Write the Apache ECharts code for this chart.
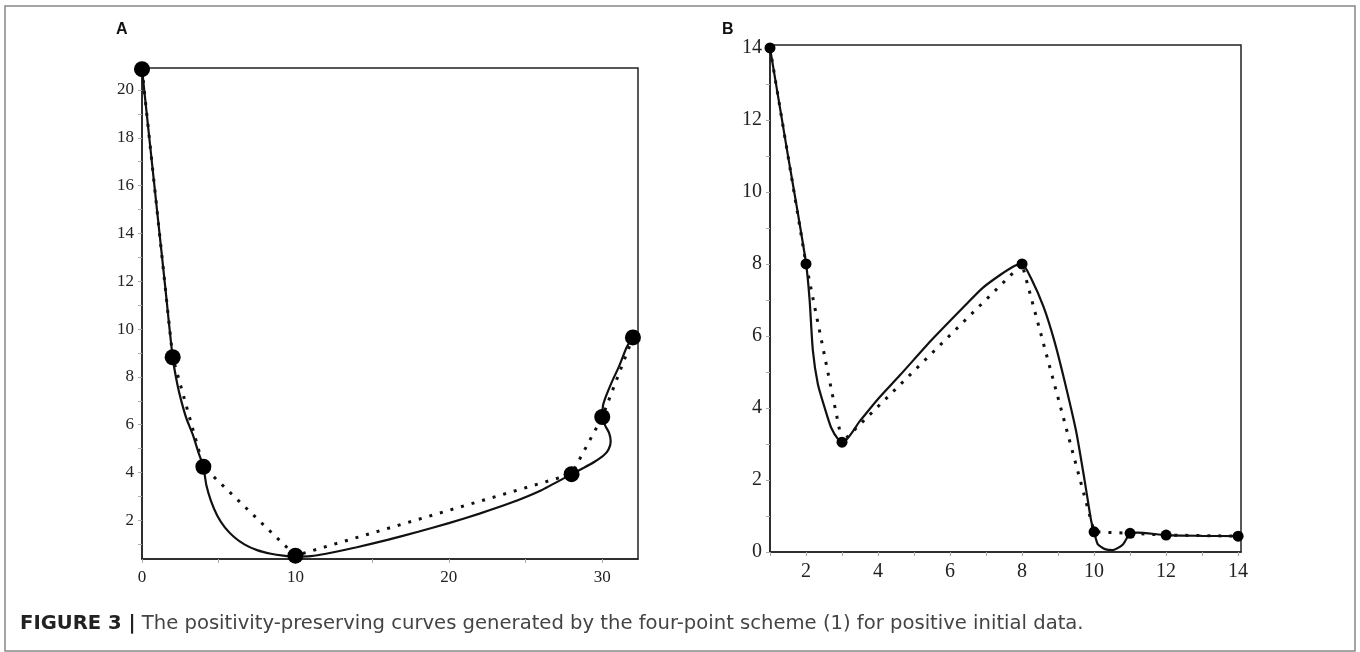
<!DOCTYPE html>
<html>
<head>
<meta charset="utf-8">
<style>
  html, body { margin: 0; padding: 0; background: #fff; }
  #chart { width: 1360px; height: 652px; }
</style>
<script src="https://cdn.jsdelivr.net/npm/echarts@6/dist/echarts.min.js"></script>
</head>
<body>
<div id="chart"></div>
<script>
// panel A: initial data (control points) and the limit curve
const ctrlAX = [0, 2, 4, 10, 28, 30, 32];
const ctrlAY = [20.87, 8.82, 4.24, 0.52, 3.93, 6.32, 9.65];
const curveAX = [0, 0.5, 1, 1.5, 2, 2.3, 2.6, 2.9, 3.3, 3.7, 4, 4.2, 4.5, 4.9, 5.4, 6, 6.7, 7.5, 8.4, 9.2, 10,
  11, 12, 14, 16, 18, 20, 22, 24, 26, 28, 28.8, 29.5, 30.1, 30.4, 30.55, 30.45, 30.2, 30, 30.05, 30.25, 30.6, 31.1, 31.6, 32];
const curveAY = [20.87, 17.85, 14.85, 11.85, 8.82, 7.7, 6.9, 6.25, 5.6, 4.8, 4.24, 3.45, 2.8, 2.2, 1.7, 1.3, 0.98, 0.75, 0.6, 0.52, 0.48,
  0.5, 0.6, 0.87, 1.18, 1.52, 1.88, 2.28, 2.72, 3.25, 3.93, 4.2, 4.45, 4.72, 4.95, 5.3, 5.65, 5.95, 6.32, 6.8, 7.2, 7.75, 8.45, 9.25, 9.65];

// panel B
const ctrlBX = [1, 2, 3, 8, 10, 11, 12, 14];
const ctrlBY = [14, 8, 3.05, 8, 0.56, 0.52, 0.47, 0.44];
const curveBX = [1, 1.25, 1.5, 1.75, 2, 2.1, 2.19, 2.33, 2.52, 2.7, 2.9, 3.03, 3.5, 4, 4.6, 5.5, 6.45, 6.9, 7.4, 7.8, 8,
  8.25, 8.6, 8.9, 9.18, 9.5, 9.74, 9.92, 10, 10.1, 10.3, 10.52, 10.8, 11, 11.2, 12, 13, 14];
const curveBY = [14, 12.5, 11, 9.55, 8.02, 7, 5.6, 4.66, 4, 3.45, 3.12, 3.05, 3.64, 4.25, 4.9, 5.9, 6.88, 7.33, 7.7, 7.95, 8,
  7.6, 6.8, 5.85, 4.75, 3.36, 1.97, 0.86, 0.56, 0.22, 0.08, 0.05, 0.21, 0.52, 0.54, 0.47, 0.45, 0.44];

// ticks
const labelsAX = [0, 10, 20, 30];
const ticksAX = [0, 5, 10, 15, 20, 25, 30];
const labelsAY = [2, 4, 6, 8, 10, 12, 14, 16, 18, 20];
const ticksAY = [1, 2, 3, 4, 5, 6, 7, 8, 9, 10, 11, 12, 13, 14, 15, 16, 17, 18, 19, 20];
const labelsBX = [2, 4, 6, 8, 10, 12, 14];
const ticksBX = [1, 2, 3, 4, 5, 6, 7, 8, 9, 10, 11, 12, 13, 14];
const labelsBY = [0, 2, 4, 6, 8, 10, 12, 14];
const ticksBY = [0, 1, 2, 3, 4, 5, 6, 7, 8, 9, 10, 11, 12, 13, 14];

const zip = (xs, ys) => xs.map((x, i) => [x, ys[i]]);

const serif = "'Liberation Serif', 'DejaVu Serif', serif";
const sans = "'Liberation Sans', Arial, sans-serif";

function makeAxis(gridIndex, min, max, labels, ticks, fontSize, isY) {
  return {
    type: "value",
    gridIndex,
    min,
    max,
    splitLine: { show: false },
    axisLine: { show: true, onZero: false, lineStyle: { color: "#222", width: 1.5 } },
    axisTick: {
      show: true,
      customValues: ticks,
      length: 4,
      lineStyle: { color: "#aaa", width: 1 },
    },
    axisLabel: {
      customValues: labels,
      color: "#222",
      fontFamily: serif,
      fontSize,
      margin: isY ? 8 : 10,
    },
  };
}

const chart = echarts.init(document.getElementById("chart"), null, { renderer: "canvas" });

const dotted = { color: "#111", width: 3, type: [3, 8], cap: "butt" };

chart.setOption({
  animation: false,
  backgroundColor: "#fff",
  grid: [
    { left: 142, top: 68, width: 496, height: 491, show: true, borderColor: "#222", borderWidth: 1.5, backgroundColor: "transparent" },
    { left: 770, top: 45, width: 471, height: 507, show: true, borderColor: "#222", borderWidth: 1.5, backgroundColor: "transparent" },
  ],
  xAxis: [
    makeAxis(0, 0, 32.33, labelsAX, ticksAX, 17, false),
    makeAxis(1, 1, 14.08, labelsBX, ticksBX, 20, false),
  ],
  yAxis: [
    makeAxis(0, 0.38, 20.92, labelsAY, ticksAY, 17, true),
    makeAxis(1, 0, 14.08, labelsBY, ticksBY, 20, true),
  ],
  series: [
    {
      type: "line", xAxisIndex: 0, yAxisIndex: 0,
      data: zip(curveAX, curveAY), showSymbol: false, smooth: 0.2,
      lineStyle: { color: "#111", width: 2.2 }, z: 2,
    },
    {
      type: "line", xAxisIndex: 0, yAxisIndex: 0,
      data: zip(ctrlAX, ctrlAY), showSymbol: false,
      lineStyle: dotted, z: 3,
    },
    {
      type: "scatter", xAxisIndex: 0, yAxisIndex: 0,
      data: zip(ctrlAX, ctrlAY), symbolSize: 16,
      itemStyle: { color: "#000", opacity: 1 }, z: 4,
    },
    {
      type: "line", xAxisIndex: 1, yAxisIndex: 1,
      data: zip(curveBX, curveBY), showSymbol: false, smooth: 0.2,
      lineStyle: { color: "#111", width: 2.2 }, z: 2,
    },
    {
      type: "line", xAxisIndex: 1, yAxisIndex: 1,
      data: zip(ctrlBX, ctrlBY), showSymbol: false,
      lineStyle: dotted, z: 3,
    },
    {
      type: "scatter", xAxisIndex: 1, yAxisIndex: 1,
      data: zip(ctrlBX, ctrlBY), symbolSize: 11,
      itemStyle: { color: "#000", opacity: 1 }, z: 4,
    },
  ],
  graphic: [
    {
      type: "rect", silent: true,
      shape: { x: 5, y: 6, width: 1350, height: 645 },
      style: { fill: "none", stroke: "#888", lineWidth: 1.5 },
    },
    {
      type: "text", left: 116, top: 22,
      style: { text: "A", font: "bold 16px " + sans, fill: "#111" },
    },
    {
      type: "text", left: 722, top: 22,
      style: { text: "B", font: "bold 16px " + sans, fill: "#111" },
    },
    {
      type: "text", left: 20, top: 614,
      style: {
        text: "{b|FIGURE 3 |} The positivity-preserving curves generated by the four-point scheme (1) for positive initial data.",
        font: "19.6px 'DejaVu Sans', sans-serif",
        fill: "#444",
        rich: {
          b: { fontWeight: "bold", fontSize: 19.6, fontFamily: "'DejaVu Sans', sans-serif", fill: "#222" },
        },
      },
    },
  ],
});
</script>
</body>
</html>
